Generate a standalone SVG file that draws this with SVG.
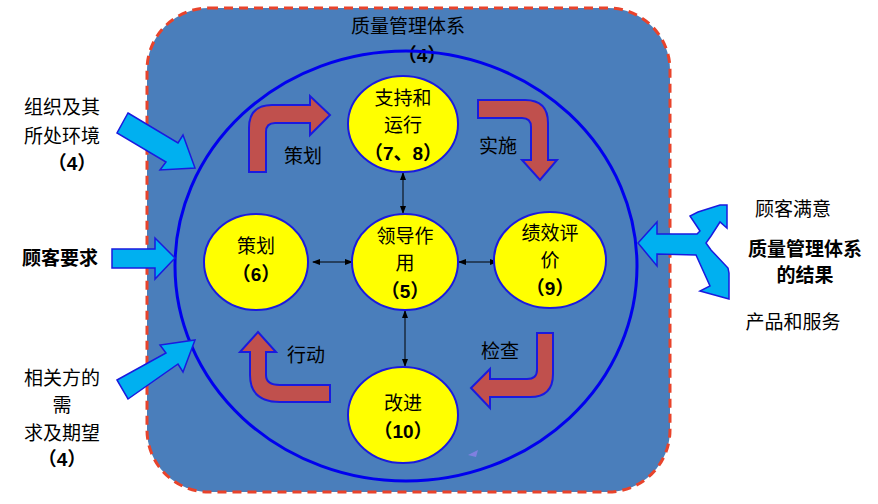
<svg xmlns="http://www.w3.org/2000/svg" width="878" height="504" viewBox="0 0 878 504">
<style>
.t{font-family:"Liberation Serif","Noto Sans CJK SC",serif;font-size:19px;fill:#000;text-anchor:middle}
.b{font-family:"Liberation Sans","Noto Sans CJK SC",sans-serif;font-size:19px;font-weight:bold;fill:#000;text-anchor:middle}
.node{fill:#ffff00;stroke:#1a1adf;stroke-width:2}
.red{fill:#c0504d;stroke:#1a1adf;stroke-width:2}
.blu{fill:#00b0f0;stroke:#1a1adf;stroke-width:1.5}
.c{stroke:#000;stroke-width:1;fill:none;marker-start:url(#a);marker-end:url(#a)}
</style>
<defs>
<marker id="a" markerWidth="8" markerHeight="8" refX="7" refY="4" orient="auto-start-reverse" markerUnits="userSpaceOnUse"><path d="M0,1 L8,4 L0,7 Z" fill="#000"/></marker>
</defs>
<rect x="0" y="0" width="878" height="504" fill="#fff"/>
<g id="system">
<rect x="147" y="8" width="523" height="484" rx="62" fill="#4a7ebb" stroke="#e8432b" stroke-width="3" stroke-dasharray="9,6"/>
<text class="t" x="408" y="33">质量管理体系</text>
<text class="b" x="422" y="62">（4）</text>
<ellipse cx="406" cy="266" rx="231" ry="215" fill="none" stroke="#0000ee" stroke-width="3"/>
<polygon points="468,455 478,450 476,457" fill="#8080e0"/>
</g>
<g id="cycle-arrows">
<path class="red" d="M249,172 L249,128 Q249,105 272,105 L310,105 L310,96 L330,115 L310,135 L310,123 L275,123 Q266,123 266,132 L266,172 Z"/>
<text class="t" x="303" y="163">策划</text>
<path class="red" d="M478,100 L525,100 Q548,100 548,123 L548,160 L557,160 L540,180 L522,160 L531,160 L531,127 Q531,118 522,118 L478,118 Z"/>
<text class="t" x="498" y="153">实施</text>
<path class="red" d="M553,333 L553,374 Q553,397 530,397 L490,397 L490,408 L471,388 L490,369 L490,379 L527,379 Q537,379 537,370 L537,333 Z"/>
<text class="t" x="500" y="358">检查</text>
<path class="red" d="M330,402 L280,402 Q250,402 250,375 L250,352 L240,352 L258,332 L276,352 L266,352 L266,375 Q266,385 280,385 L330,385 Z"/>
<text class="t" x="306" y="362">行动</text>
</g>
<g id="connectors">
<line class="c" x1="403" y1="173" x2="403" y2="213"/>
<line class="c" x1="405" y1="311" x2="405" y2="366"/>
<line class="c" x1="313" y1="262" x2="352" y2="262"/>
<line class="c" x1="459" y1="262" x2="497" y2="262"/>
</g>
<g id="n-support">
<ellipse class="node" cx="403" cy="124" rx="55" ry="48"/>
<text class="t" x="403" y="105">支持和</text>
<text class="t" x="403" y="132">运行</text>
<text class="b" x="403" y="160">（7、8）</text>
</g>
<g id="n-lead">
<ellipse class="node" cx="405" cy="262" rx="53" ry="48"/>
<text class="t" x="405" y="243">领导作</text>
<text class="t" x="405" y="270">用</text>
<text class="b" x="405" y="298">（5）</text>
</g>
<g id="n-plan">
<ellipse class="node" cx="256" cy="262" rx="52" ry="48"/>
<text class="t" x="256" y="253">策划</text>
<text class="b" x="256" y="281">（6）</text>
</g>
<g id="n-eval">
<ellipse class="node" cx="550" cy="260" rx="56" ry="48"/>
<text class="t" x="550" y="240">绩效评</text>
<text class="t" x="550" y="267">价</text>
<text class="b" x="550" y="295">（9）</text>
</g>
<g id="n-improve">
<ellipse class="node" cx="403" cy="415" rx="55" ry="48"/>
<text class="t" x="403" y="410">改进</text>
<text class="b" x="403" y="438">（10）</text>
</g>
<g id="inputs">
<polygon class="blu" points="128,113 178,143 183,135 195,168 160,170 166,162 117,133"/>
<text class="t" x="62" y="114">组织及其</text>
<text class="t" x="62" y="143">所处环境</text>
<text class="b" x="72" y="170">（4）</text>
<polygon class="blu" points="112,249 155,249 155,238 175,258 155,279 155,268 112,268"/>
<text class="b" x="60" y="265">顾客要求</text>
<polygon class="blu" points="117,380 166,353 160,345 195,340 183,372 178,364 128,399"/>
<text class="t" x="62" y="385">相关方的</text>
<text class="t" x="62" y="412">需</text>
<text class="t" x="62" y="440">求及期望</text>
<text class="b" x="62" y="466">（4）</text>
</g>
<g id="outputs">
<polygon class="blu" points="638,243 657,222 657,234 697,234 700,231 690,216 698,212 720,205 727,205 727,228 720,222 711,236 706,243 711,250 728,268 729,273 729,299 700,291 710,286 696,255 657,254 657,266"/>
<text class="t" x="793" y="216">顾客满意</text>
<text class="b" x="805" y="256">质量管理体系</text>
<text class="b" x="805" y="282">的结果</text>
<text class="t" x="793" y="329">产品和服务</text>
</g>
</svg>
